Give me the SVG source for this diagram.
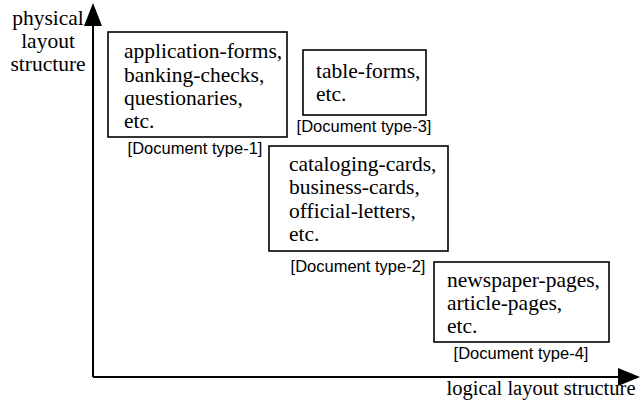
<svg xmlns="http://www.w3.org/2000/svg" width="643" height="402" viewBox="0 0 643 402">
<style>
.box{fill:none;stroke:#000;stroke-width:1.6}
.t{font-family:"Liberation Serif",serif;font-size:21.5px;fill:#000}
.l{font-family:"Liberation Sans",sans-serif;font-size:16.5px;fill:#000}
.ax{stroke:#000;stroke-width:2;fill:none}
</style>
<g id="axes">
<path class="ax" d="M93,377 V26"/>
<path d="M84,26 L93,3 L102,26 Z" fill="#000"/>
<path class="ax" d="M93,377 H618"/>
<path d="M618,368 L640,377 L618,386 Z" fill="#000"/>
</g>
<g id="ylabel">
<text class="t" x="48" y="25" text-anchor="middle">physical</text>
<text class="t" x="48" y="48" text-anchor="middle">layout</text>
<text class="t" x="48" y="71" text-anchor="middle">structure</text>
</g>
<g id="xlabel">
<text class="t" x="541" y="395" text-anchor="middle" style="font-size:20.5px">logical layout structure</text>
</g>
<g id="type1">
<rect class="box" x="108" y="32" width="179" height="105"/>
<text class="t" x="124" y="58">application-forms,</text>
<text class="t" x="124" y="82">banking-checks,</text>
<text class="t" x="124" y="105">questionaries,</text>
<text class="t" x="124" y="128">etc.</text>
<text class="l" x="195" y="154" text-anchor="middle">[Document type-1]</text>
</g>
<g id="type3">
<rect class="box" x="303" y="50" width="123" height="65"/>
<text class="t" x="316" y="78">table-forms,</text>
<text class="t" x="316" y="101">etc.</text>
<text class="l" x="364" y="132" text-anchor="middle">[Document type-3]</text>
</g>
<g id="type2">
<rect class="box" x="269" y="146" width="179" height="105"/>
<text class="t" x="289" y="171">cataloging-cards,</text>
<text class="t" x="289" y="194">business-cards,</text>
<text class="t" x="289" y="218">official-letters,</text>
<text class="t" x="289" y="241">etc.</text>
<text class="l" x="358" y="272" text-anchor="middle">[Document type-2]</text>
</g>
<g id="type4">
<rect class="box" x="434" y="262" width="175" height="80"/>
<text class="t" x="447" y="287">newspaper-pages,</text>
<text class="t" x="447" y="310">article-pages,</text>
<text class="t" x="447" y="333">etc.</text>
<text class="l" x="521" y="359" text-anchor="middle">[Document type-4]</text>
</g>
</svg>
